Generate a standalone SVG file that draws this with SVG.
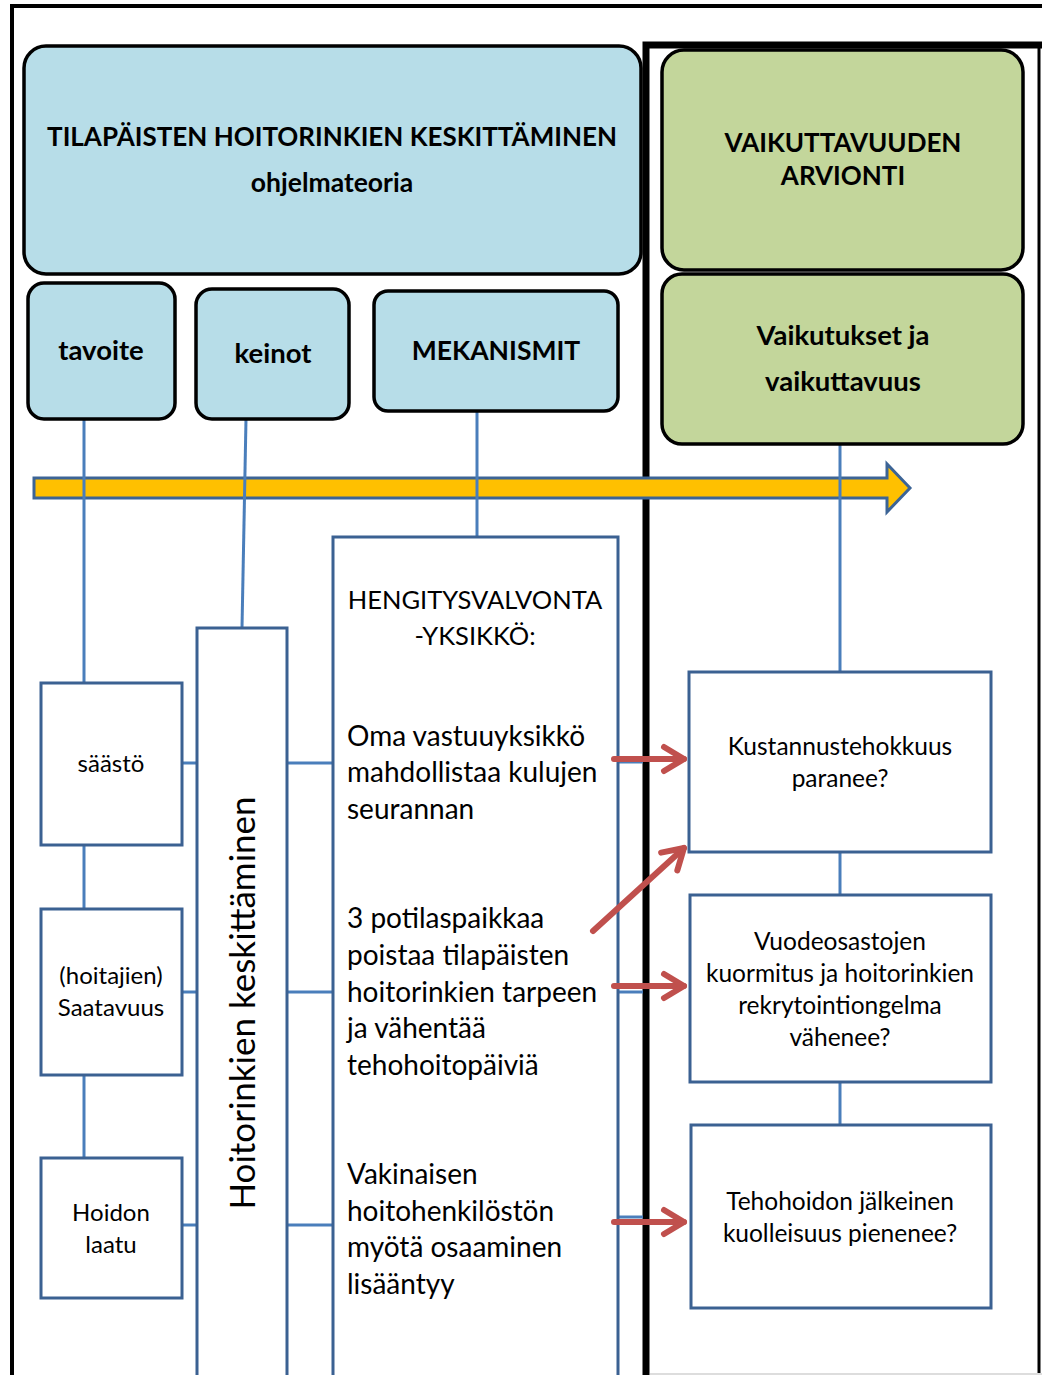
<svg xmlns="http://www.w3.org/2000/svg" width="1042" height="1375" viewBox="0 0 1042 1375">
  <style>
    .hdr { fill: #b7dde8; stroke: #000; stroke-width: 3.5; }
    .grn { fill: #c3d69b; stroke: #000; stroke-width: 3.5; }
    .box { fill: #fff; stroke: #3b6192; stroke-width: 3; }
    .con { fill: none; stroke: #4a7ebb; stroke-width: 3; }
    .frame { fill: none; stroke: #000; }
    .tb { font-family: Lato, "Liberation Sans", sans-serif; font-weight: bold; fill: #000; text-anchor: middle; }
    .t { font-family: Lato, "Liberation Sans", sans-serif; fill: #000; }
    .c { text-anchor: middle; }
    .red { fill: none; stroke: #c0504d; stroke-width: 6; stroke-linecap: round; stroke-linejoin: round; }
  </style>
  <defs>
    <marker id="chev" viewBox="-26 -18 32 36" markerWidth="32" markerHeight="36" refX="0" refY="0" orient="auto" markerUnits="userSpaceOnUse">
      <path d="M-20,-12 L0,0 L-20,12" fill="none" stroke="#c0504d" stroke-width="6" stroke-linecap="round" stroke-linejoin="round"/>
    </marker>
  </defs>

  <rect width="1042" height="1375" fill="#fff"/>

  <!-- outer frame and divider -->
  <g id="frame">
    <path class="frame" stroke-width="4" d="M12,1375 V6 H1042"/>
    <path class="frame" stroke-width="7" d="M646,1375 V45 H1042"/>
    <path class="frame" stroke-width="3" d="M1039,45 V1375"/>
    <path d="M650,1374 H1042" stroke="#ddd" stroke-width="2"/>
  </g>

  <!-- timeline arrow -->
  <g id="timeline">
    <polygon points="34,478 887,478 887,464 910,488 887,512 887,498 34,498" fill="#ffc000" stroke="#3c6496" stroke-width="3"/>
  </g>

  <!-- connectors -->
  <g id="connectors">
    <path class="con" d="M84,419 V683"/>
    <path class="con" d="M246,419 L242,628"/>
    <path class="con" d="M477,411 V536"/>
    <path class="con" d="M840,444 V672"/>
    <path class="con" d="M84,845 V909"/>
    <path class="con" d="M84,1075 V1158"/>
    <path class="con" d="M182,763 H197"/>
    <path class="con" d="M182,992 H197"/>
    <path class="con" d="M182,1225 H197"/>
    <path class="con" d="M287,763 H333"/>
    <path class="con" d="M287,992 H333"/>
    <path class="con" d="M287,1225 H333"/>
    <path class="con" d="M618,762 H643"/>
    <path class="con" d="M618,992 H643"/>
    <path class="con" d="M618,1217 H643"/>
    <path class="con" d="M840,852 V895"/>
    <path class="con" d="M840,1082 V1125"/>
  </g>

  <!-- header -->
  <g id="header">
    <rect class="hdr" x="24" y="46" width="617" height="228" rx="22"/>
    <text class="tb" x="332" y="146" font-size="26">TILAPÄISTEN HOITORINKIEN KESKITTÄMINEN</text>
    <text class="tb" x="332" y="192" font-size="26.5">ohjelmateoria</text>
  </g>

  <g id="arviointi">
    <rect class="grn" x="662" y="50" width="361" height="220" rx="22"/>
    <text class="tb" x="843" y="152" font-size="26">VAIKUTTAVUUDEN</text>
    <text class="tb" x="843" y="185" font-size="26">ARVIONTI</text>
  </g>

  <g id="vaikutukset">
    <rect class="grn" x="662" y="274" width="361" height="170" rx="20"/>
    <text class="tb" x="843" y="345" font-size="27.5">Vaikutukset ja</text>
    <text class="tb" x="843" y="391" font-size="27.5">vaikuttavuus</text>
  </g>

  <g id="tavoite">
    <rect class="hdr" x="28" y="283" width="147" height="136" rx="16"/>
    <text class="tb" x="101" y="360" font-size="27.5">tavoite</text>
  </g>
  <g id="keinot">
    <rect class="hdr" x="196" y="289" width="153" height="130" rx="16"/>
    <text class="tb" x="273" y="363" font-size="27.5">keinot</text>
  </g>
  <g id="mekanismit">
    <rect class="hdr" x="374" y="291" width="244" height="120" rx="14"/>
    <text class="tb" x="496" y="360" font-size="26.5">MEKANISMIT</text>
  </g>

  <!-- goals -->
  <g id="saasto">
    <rect class="box" x="41" y="683" width="141" height="162"/>
    <text class="t c" x="111" y="772" font-size="24">säästö</text>
  </g>
  <g id="saatavuus">
    <rect class="box" x="41" y="909" width="141" height="166"/>
    <text class="t c" x="111" y="984" font-size="24">(hoitajien)</text>
    <text class="t c" x="111" y="1016" font-size="24">Saatavuus</text>
  </g>
  <g id="laatu">
    <rect class="box" x="41" y="1158" width="141" height="140"/>
    <text class="t c" x="111" y="1221" font-size="24">Hoidon</text>
    <text class="t c" x="111" y="1253" font-size="24">laatu</text>
  </g>

  <!-- means -->
  <g id="keskittaminen">
    <path class="box" d="M197,1375 V628 H287 V1375"/>
    <text class="t c" transform="translate(255,1003) rotate(-90)" font-size="35">Hoitorinkien keskittäminen</text>
  </g>

  <!-- mechanisms -->
  <g id="hengitysvalvonta">
    <path class="box" d="M333,1375 V537 H618 V1375"/>
    <text class="t c" x="475" y="609" font-size="25.5">HENGITYSVALVONTA</text>
    <text class="t c" x="475" y="645" font-size="25.5">-YKSIKKÖ:</text>
    <g font-size="28">
      <text class="t" x="347" y="746">Oma vastuuyksikkö</text>
      <text class="t" x="347" y="782">mahdollistaa kulujen</text>
      <text class="t" x="347" y="819">seurannan</text>
      <text class="t" x="347" y="928">3 potilaspaikkaa</text>
      <text class="t" x="347" y="965">poistaa tilapäisten</text>
      <text class="t" x="347" y="1002">hoitorinkien tarpeen</text>
      <text class="t" x="347" y="1038">ja vähentää</text>
      <text class="t" x="347" y="1075">tehohoitopäiviä</text>
      <text class="t" x="347" y="1184">Vakinaisen</text>
      <text class="t" x="347" y="1221">hoitohenkilöstön</text>
      <text class="t" x="347" y="1257">myötä osaaminen</text>
      <text class="t" x="347" y="1294">lisääntyy</text>
    </g>
  </g>

  <!-- effects -->
  <g id="kustannus">
    <rect class="box" x="689" y="672" width="302" height="180"/>
    <text class="t c" x="840" y="755" font-size="24.5">Kustannustehokkuus</text>
    <text class="t c" x="840" y="787" font-size="24.5">paranee?</text>
  </g>
  <g id="vuodeosastot">
    <rect class="box" x="690" y="895" width="301" height="187"/>
    <text class="t c" x="840" y="950" font-size="24.5">Vuodeosastojen</text>
    <text class="t c" x="840" y="982" font-size="24.5">kuormitus ja hoitorinkien</text>
    <text class="t c" x="840" y="1014" font-size="24.5">rekrytointiongelma</text>
    <text class="t c" x="840" y="1046" font-size="24.5">vähenee?</text>
  </g>
  <g id="kuolleisuus">
    <rect class="box" x="691" y="1125" width="300" height="183"/>
    <text class="t c" x="840" y="1210" font-size="24.5">Tehohoidon jälkeinen</text>
    <text class="t c" x="840" y="1242" font-size="24.5">kuolleisuus pienenee?</text>
  </g>

  <!-- impact arrows -->
  <g id="impact-arrows">
    <path class="red" d="M614,759 H684" marker-end="url(#chev)"/>
    <path class="red" d="M593,931 L684,848" marker-end="url(#chev)"/>
    <path class="red" d="M614,986 H684" marker-end="url(#chev)"/>
    <path class="red" d="M614,1222 H684" marker-end="url(#chev)"/>
  </g>
</svg>
